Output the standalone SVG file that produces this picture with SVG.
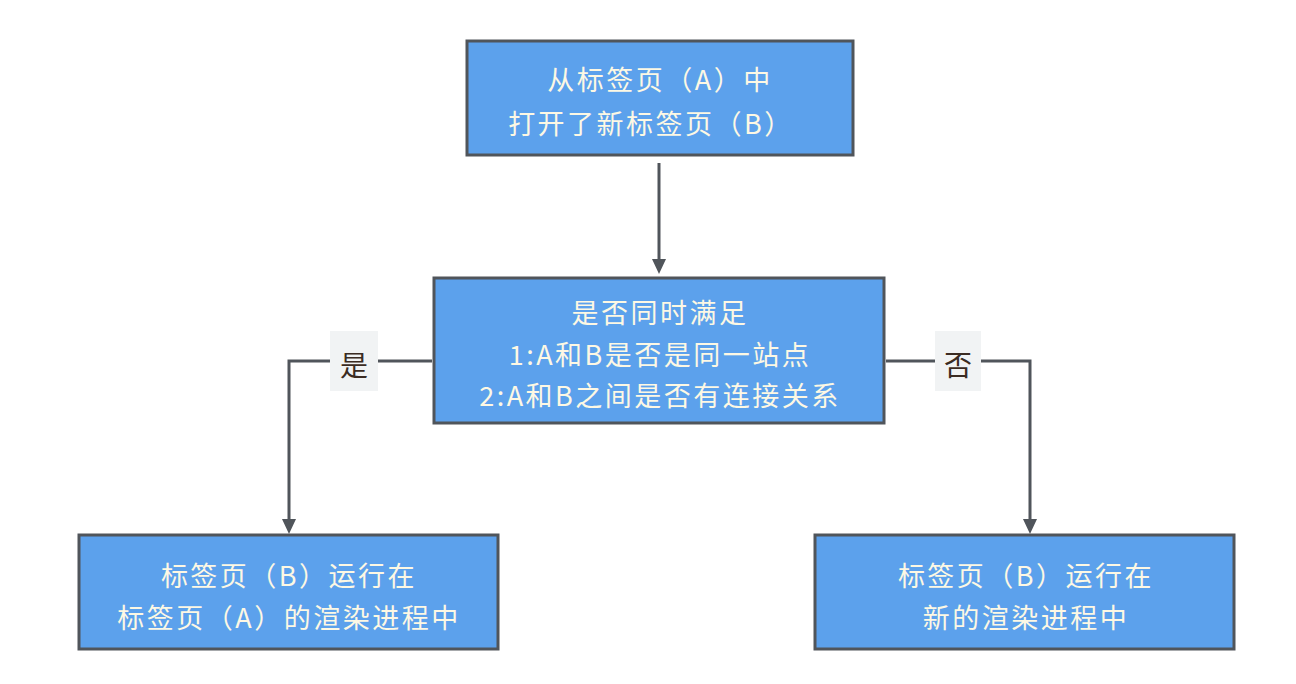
<svg xmlns="http://www.w3.org/2000/svg" width="1296" height="684" viewBox="0 0 1296 684">
<defs>
<style>
.box{fill:#5ca1ec;stroke:#50555b;stroke-width:3}
.t{font-family:"Noto Sans CJK SC","Noto Sans",sans-serif;font-size:27px;fill:#fdf8e4;text-anchor:middle;letter-spacing:2.5px}
.lbl{font-family:"Noto Sans CJK SC","Noto Sans",sans-serif;font-size:28px;fill:#3b2b22;text-anchor:middle}
.lb{fill:#f1f3f4}
.c{fill:none;stroke:#50555b;stroke-width:3}
.ah{fill:#50555b}
</style>
</defs>
<rect width="1296" height="684" fill="#ffffff"/>
<g id="connectors">
<path class="c" d="M659,163 L659,260"/>
<path class="ah" d="M652,259 L666,259 L659,274 Z"/>
<path class="c" d="M432,361 L289,361 L289,520"/>
<path class="ah" d="M282,519 L296,519 L289,534 Z"/>
<path class="c" d="M886,361 L1030,361 L1030,520"/>
<path class="ah" d="M1023,519 L1037,519 L1030,534 Z"/>
<rect class="lb" x="330" y="331" width="48" height="60"/>
<text class="lbl" x="354" y="376">是</text>
<rect class="lb" x="935" y="331" width="46" height="60"/>
<text class="lbl" x="958" y="376">否</text>
</g>
<g id="n1">
<rect class="box" x="467" y="41" width="386" height="114"/>
<text class="t" x="660" y="90">从标签页（A）中</text>
<text class="t" x="651" y="134">打开了新标签页（B）</text>
</g>
<g id="n2">
<rect class="box" x="434" y="278" width="450" height="145"/>
<text class="t" x="660" y="323">是否同时满足</text>
<text class="t" x="660" y="365">1:A和B是否是同一站点</text>
<text class="t" x="660" y="406">2:A和B之间是否有连接关系</text>
</g>
<g id="n3">
<rect class="box" x="79" y="535" width="419" height="114"/>
<text class="t" x="289" y="586">标签页（B）运行在</text>
<text class="t" x="289" y="628">标签页（A）的渲染进程中</text>
</g>
<g id="n4">
<rect class="box" x="815" y="535" width="419" height="114"/>
<text class="t" x="1026" y="586">标签页（B）运行在</text>
<text class="t" x="1026" y="628">新的渲染进程中</text>
</g>
</svg>
